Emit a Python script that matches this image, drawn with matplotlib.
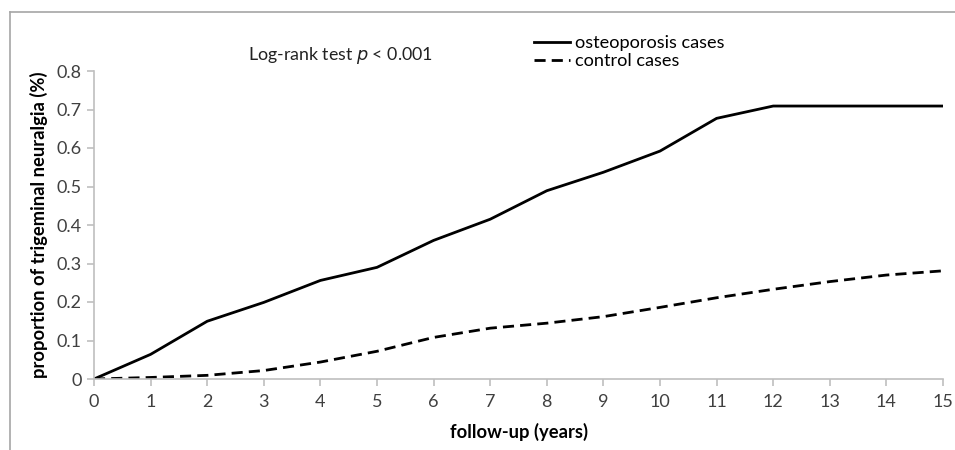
import matplotlib
matplotlib.use("Agg")
import matplotlib.pyplot as plt
from matplotlib.lines import Line2D

plt.rcParams['font.family'] = ['Lato', 'DejaVu Sans']

years = list(range(16))
osteo = [0, 0.064, 0.15, 0.199, 0.256, 0.29, 0.36, 0.415, 0.489, 0.537, 0.592,
         0.677, 0.709, 0.709, 0.709, 0.709]
control = [0, 0.004, 0.0095, 0.022, 0.044, 0.072, 0.108, 0.132, 0.145, 0.162,
           0.186, 0.211, 0.233, 0.253, 0.270, 0.281]
yticks = [0, 0.1, 0.2, 0.3, 0.4, 0.5, 0.6, 0.7, 0.8]
ytick_labels = ['0', '0.1', '0.2', '0.3', '0.4', '0.5', '0.6', '0.7', '0.8']

fig = plt.figure(figsize=(9.55, 4.5), dpi=100)
ax = fig.add_axes([94 / 955, 1 - 379 / 450, (943 - 94) / 955, (379 - 71) / 450])

ax.plot(years, osteo, color='black', lw=2.0, solid_joinstyle='round',
        label='osteoporosis cases')
ax.plot(years, control, color='black', lw=2.0, linestyle=(0, (4, 2.2)),
        label='control cases')

ax.set_xlim(0, 15)
ax.set_ylim(0, 0.8)
ax.set_xticks(years)
ax.set_yticks(yticks)
ax.set_yticklabels(ytick_labels)

grey = '#bfbfbf'
for s in ['top', 'right']:
    ax.spines[s].set_visible(False)
for s in ['left', 'bottom']:
    ax.spines[s].set_color(grey)
    ax.spines[s].set_linewidth(1.2)
ax.tick_params(axis='both', colors=grey, length=5, width=1.2,
               labelcolor='#404040', labelsize=13)
ax.tick_params(axis='x', pad=6)
ax.tick_params(axis='y', pad=4)

ax.set_xlabel('follow-up (years)', fontsize=13.2, fontweight='bold', labelpad=9)
ax.set_ylabel('proportion of trigeminal neuralgia (%)', fontsize=13.2,
              fontweight='bold', labelpad=6)

fig.text(248 / 955, 1 - 55 / 450, 'Log-rank test $\\it{p}$ < 0.001',
         fontsize=12.8, va='center', ha='left', color='#222222')

leg = ax.legend(loc='upper left', bbox_to_anchor=(525 / 955, 1 - 26 / 450),
                bbox_transform=fig.transFigure, frameon=False, fontsize=13.1,
                handlelength=2.0, handletextpad=0.25, labelspacing=0.12,
                borderpad=0)

# outer frame (top and left edges)
fig.add_artist(Line2D([10 / 955, 1], [1 - 12 / 450, 1 - 12 / 450],
                      transform=fig.transFigure, color='#a6a6a6', lw=1.2))
fig.add_artist(Line2D([10 / 955, 10 / 955], [0, 1 - 12 / 450],
                      transform=fig.transFigure, color='#a6a6a6', lw=1.2))

fig.savefig('out.png', dpi=100)
